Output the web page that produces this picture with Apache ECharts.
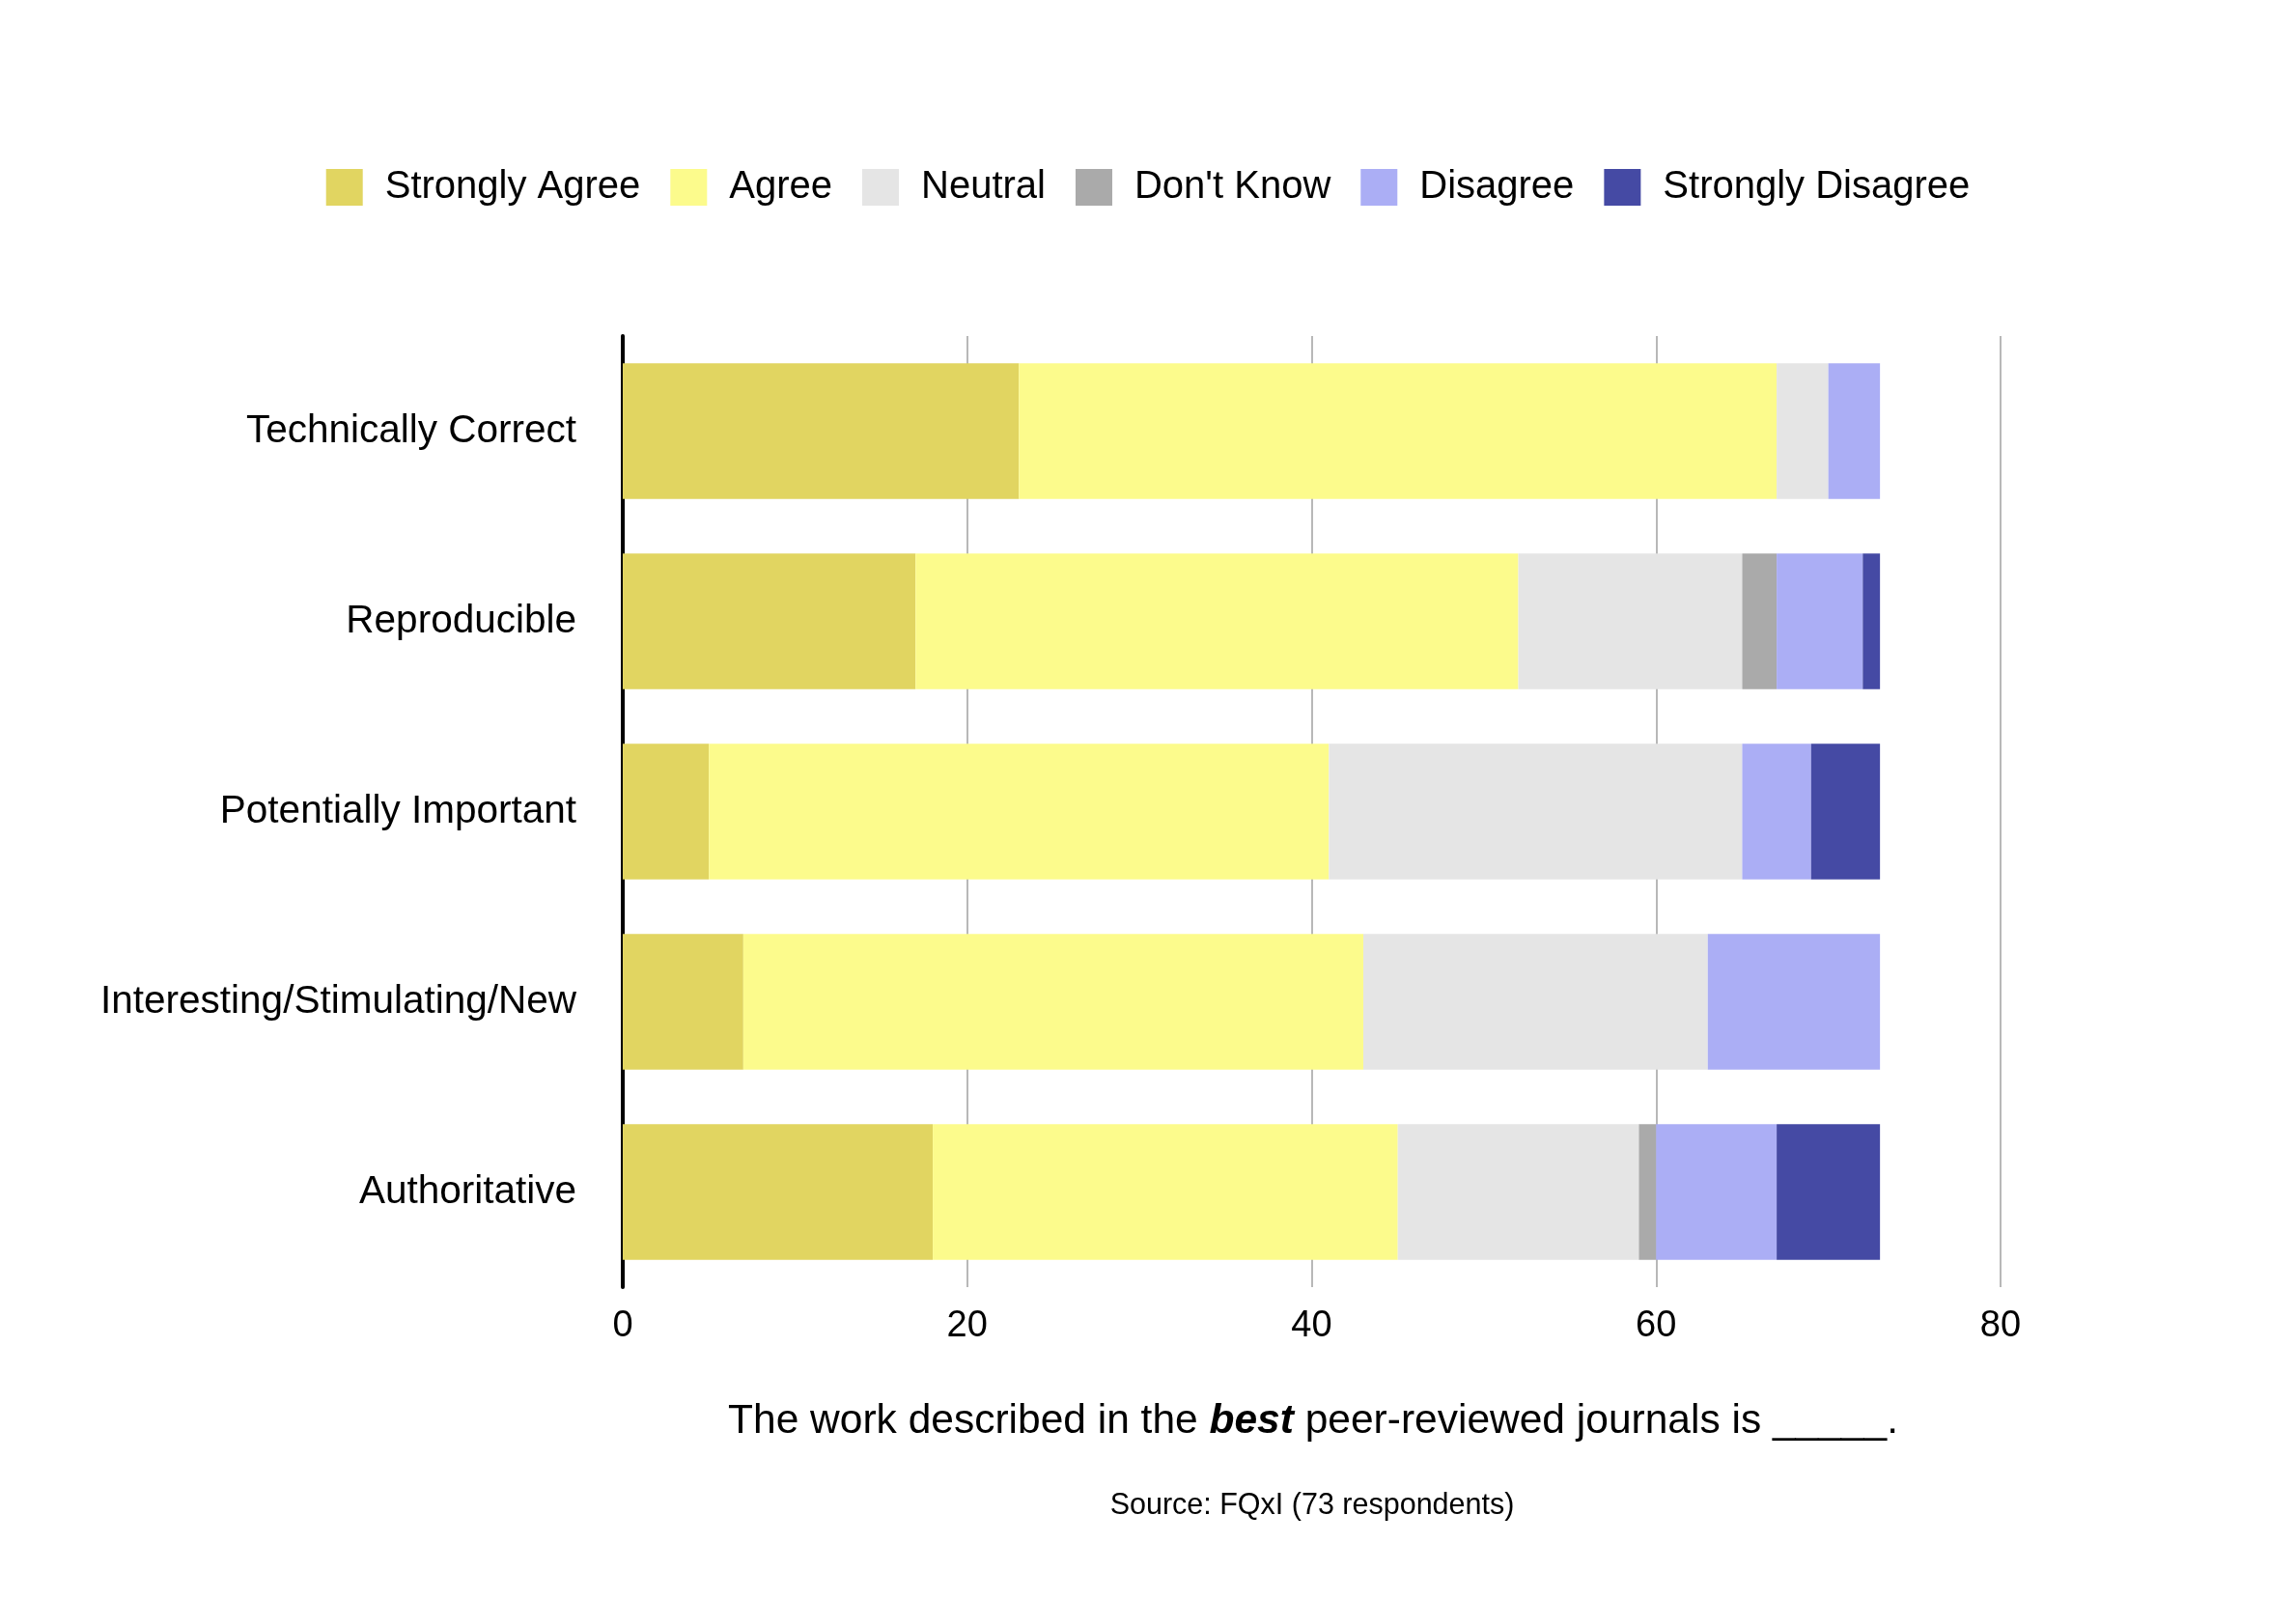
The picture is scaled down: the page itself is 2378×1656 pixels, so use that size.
<!DOCTYPE html>
<html>
<head>
<meta charset="utf-8">
<script src="https://cdn.jsdelivr.net/npm/echarts@6/dist/echarts.min.js"></script>
<style>
html,body{margin:0;padding:0;background:#fff;}
#chart{width:2378px;height:1656px;}
</style>
</head>
<body>
<div id="chart"></div>
<script>
const categories = ["Technically Correct", "Reproducible", "Potentially Important", "Interesting/Stimulating/New", "Authoritative"];
const seriesNames = ["Strongly Agree", "Agree", "Neutral", "Don't Know", "Disagree", "Strongly Disagree"];
const stronglyAgree    = [23, 17, 5, 7, 18];
const agree            = [44, 35, 36, 36, 27];
const neutral          = [3, 13, 24, 20, 14];
const dontKnow         = [0, 2, 0, 0, 1];
const disagree         = [3, 5, 4, 10, 7];
const stronglyDisagree = [0, 1, 4, 0, 6];
const xTicks = [0, 20, 40, 60, 80];
const colors = ["#e1d561", "#fcfb8c", "#e5e5e5", "#aaaaaa", "#abaef5", "#454aa4"];

const values = [stronglyAgree, agree, neutral, dontKnow, disagree, stronglyDisagree];
const FONT = "Liberation Sans, Arial, Helvetica, sans-serif";

const chart = echarts.init(document.getElementById('chart'));
chart.setOption({
  backgroundColor: '#fff',
  animation: false,
  textStyle: { fontFamily: FONT, color: '#000' },
  color: colors,
  title: [
    {
      text: 'The work described in the {b|best} peer-reviewed journals is _____.',
      left: 1355, top: 1446, textAlign: 'center',
      textStyle: {
        fontFamily: FONT, fontSize: 42.5, fontWeight: 'normal', color: '#000',
        rich: { b: { fontFamily: FONT, fontSize: 42.5, fontWeight: 'bold', fontStyle: 'italic', color: '#000' } }
      }
    },
    {
      text: 'Source: FQxI (73 respondents)',
      left: 1354, top: 1539, textAlign: 'center',
      textStyle: { fontFamily: FONT, fontSize: 30.5, fontWeight: 'normal', color: '#000' }
    }
  ],
  legend: {
    data: seriesNames,
    top: 169, left: 'center',
    itemWidth: 38, itemHeight: 38, itemGap: 31,
    icon: 'rect',
    textStyle: { fontFamily: FONT, fontSize: 40, color: '#000', padding: [0, 0, 0, 18] }
  },
  grid: { left: 645, right: 306, top: 348, bottom: 323, containLabel: false },
  xAxis: {
    type: 'value', min: 0, max: 80, interval: 20,
    axisLine: { show: false }, axisTick: { show: false },
    axisLabel: { fontFamily: FONT, fontSize: 38, color: '#000', margin: 22,
      formatter: v => xTicks.includes(v) ? String(v) : '' },
    splitLine: { show: true, lineStyle: { color: '#b8b8b8', width: 2 } }
  },
  yAxis: {
    type: 'category', data: categories, inverse: true,
    axisLine: { show: true, lineStyle: { color: '#000', width: 4 } },
    axisTick: { show: false },
    axisLabel: { fontFamily: FONT, fontSize: 40.5, color: '#000', margin: 48 }
  },
  series: seriesNames.map((name, i) => ({
    name, type: 'bar', stack: 'total', barWidth: '71.2%',
    itemStyle: { color: colors[i] },
    data: values[i]
  }))
});
</script>
</body>
</html>
